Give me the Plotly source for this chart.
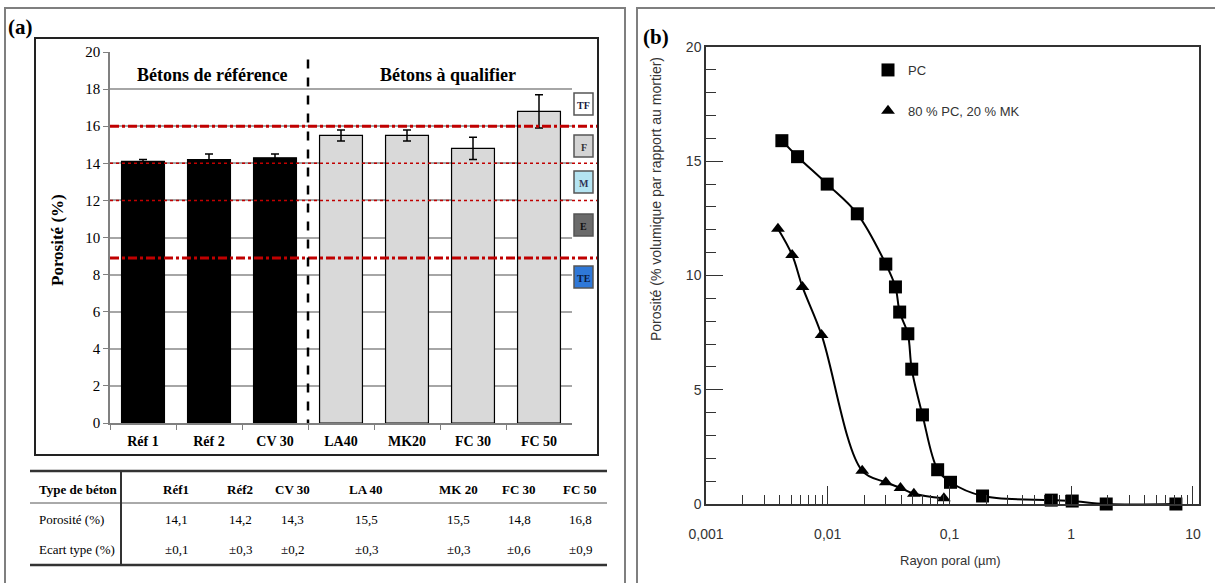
import plotly.graph_objects as go

# ---------------- Panel (a) data ----------------
categories = ["Réf 1", "Réf 2", "CV 30", "LA40", "MK20", "FC 30", "FC 50"]
porosity = [14.1, 14.2, 14.3, 15.5, 15.5, 14.8, 16.8]
std_dev = [0.1, 0.3, 0.2, 0.3, 0.3, 0.6, 0.9]
bar_colors = ["#000000", "#000000", "#000000", "#d9d9d9", "#d9d9d9", "#d9d9d9", "#d9d9d9"]
table_headers = ["Réf1", "Réf2", "CV 30", "LA 40", "MK 20", "FC 30", "FC 50"]
row_labels = ["Type de béton", "Porosité (%)", "Ecart type (%)"]
class_limits = [16, 14, 12, 8.9]
class_labels = ["TF", "F", "M", "E", "TE"]
group_labels = ["Bétons de référence", "Bétons à qualifier"]
y_ticks_a = [0, 2, 4, 6, 8, 10, 12, 14, 16, 18, 20]

# ---------------- Panel (b) data ----------------
pc_radius = [0.0042, 0.00565, 0.0099, 0.0175, 0.030, 0.036, 0.039, 0.0455, 0.049,
             0.060, 0.080, 0.102, 0.187, 0.686, 1.02, 1.94, 7.25]
pc_porosity = [15.9, 15.2, 14.0, 12.7, 10.5, 9.5, 8.4, 7.45, 5.9,
               3.9, 1.5, 0.95, 0.35, 0.17, 0.13, 0.0, 0.0]
mk_radius = [0.0039, 0.0051, 0.0062, 0.0089, 0.0192, 0.030, 0.0396, 0.051, 0.090]
mk_porosity = [12.05, 10.9, 9.5, 7.4, 1.45, 0.95, 0.7, 0.45, 0.25]
x_ticks_b = [0.001, 0.01, 0.1, 1, 10]
x_ticktext_b = ["0,001", "0,01", "0,1", "1", "10"]
y_ticks_b = [0, 5, 10, 15, 20]
legend_names = ["PC", "80 % PC, 20 % MK"]

W, H = 1215, 583
SERIF = "Liberation Serif, Times New Roman, serif"
SANS = "Liberation Sans Narrow, Arial Narrow, Liberation Sans, sans-serif"


def px(xp):
    return xp / W


def py(yp):
    return 1 - yp / H


def fr(v):
    return f"{v:.1f}".replace(".", ",")


def note(x, y, text, size, family=SERIF, color="black", xanchor="center", angle=0):
    return dict(x=px(x), y=py(y), xref="paper", yref="paper", text=text, showarrow=False,
                xanchor=xanchor, yanchor="middle", textangle=angle,
                font=dict(family=family, size=size, color=color))


fig = go.Figure()

# ---- bars (a)
fig.add_trace(go.Bar(
    x=categories, y=porosity, marker=dict(color=bar_colors, line=dict(color="black", width=1.2)),
    width=0.65,
    error_y=dict(type="data", array=std_dev, color="black", thickness=1.5, width=4),
    xaxis="x", yaxis="y", showlegend=False,
))

# ---- curves (b)
fig.add_trace(go.Scatter(
    x=pc_radius, y=pc_porosity, mode="lines+markers",
    line=dict(color="black", width=2, shape="spline", smoothing=1),
    marker=dict(symbol="square", size=13, color="black"),
    xaxis="x2", yaxis="y2", showlegend=False, cliponaxis=False,
))
fig.add_trace(go.Scatter(
    x=mk_radius, y=mk_porosity, mode="lines+markers",
    line=dict(color="black", width=2, shape="spline", smoothing=1),
    marker=dict(symbol="triangle-up", size=12, color="black"),
    xaxis="x2", yaxis="y2", showlegend=False, cliponaxis=False,
))
# legend entries
fig.add_trace(go.Scatter(x=[None], y=[None], mode="markers", name=legend_names[0],
                         marker=dict(symbol="square", size=13, color="black"),
                         xaxis="x2", yaxis="y2", legendgroup="a"))
fig.add_trace(go.Scatter(x=[None], y=[None], mode="markers", name=legend_names[1],
                         marker=dict(symbol="triangle-up", size=12, color="black"),
                         xaxis="x2", yaxis="y2", legendgroup="b"))

shapes = []
annotations = []

# panel frames
shapes.append(dict(type="rect", xref="paper", yref="paper", x0=px(5), x1=px(625), y0=py(600), y1=py(8),
                   line=dict(color="#7f7f7f", width=2), layer="below"))
shapes.append(dict(type="rect", xref="paper", yref="paper", x0=px(637), x1=px(1230), y0=py(600), y1=py(8),
                   line=dict(color="#7f7f7f", width=2), layer="below"))
# inner chart frame (a)
shapes.append(dict(type="rect", xref="paper", yref="paper", x0=px(35), x1=px(598), y0=py(455), y1=py(38),
                   line=dict(color="#222222", width=2), layer="below"))

# red class limit lines
for i, lim in enumerate(class_limits):
    thick = i in (0, 3)
    shapes.append(dict(type="line", xref="paper", yref="y", x0=px(110), x1=px(597), y0=lim, y1=lim,
                       line=dict(color="#c00000", width=3 if thick else 1.5,
                                 dash="dashdot" if thick else "dot")))

# dashed separator
shapes.append(dict(type="line", xref="x", yref="y", x0=2.5, x1=2.5, y0=-0.3, y1=20,
                   line=dict(color="black", width=2.5, dash="dash")))

# class boxes
box_centers = [104, 146, 182, 225, 277]
box_fill = ["#ffffff", "#d4d4d4", "#b4e4f2", "#6b6b6b", "#2f78d8"]
box_text_col = ["#1a1a40", "#333333", "#333355", "#111111", "#0a1a40"]
for lab, yc, fc, tc in zip(class_labels, box_centers, box_fill, box_text_col):
    shapes.append(dict(type="rect", xref="paper", yref="paper", x0=px(574), x1=px(593),
                       y0=py(yc + 11), y1=py(yc - 11), fillcolor=fc,
                       line=dict(color="#555555", width=1.5)))
    annotations.append(note(583.5, yc + 1, f"<b>{lab}</b>", 10, color=tc))

# group labels
for txt, xc in zip(group_labels, [212, 448]):
    annotations.append(note(xc, 75, f"<b>{txt}</b>", 18))

# panel labels
annotations.append(note(6, 27, "<b>(a)</b>", 21, xanchor="left"))
annotations.append(note(641, 37, "<b>(b)</b>", 21, xanchor="left"))

# axis titles
annotations.append(note(57, 240, "<b>Porosité (%)</b>", 17, angle=-90))
annotations.append(note(656, 199, "Porosité (% volumique par rapport au mortier)", 14,
                        family=SANS, color="#333333", angle=-90))
annotations.append(note(950, 560, "Rayon poral (µm)", 13, family=SANS, color="#333333"))

# ---- table under panel (a)
shapes.append(dict(type="line", xref="paper", yref="paper", x0=px(30), x1=px(607), y0=py(471), y1=py(471),
                   line=dict(color="#333333", width=2.5)))
shapes.append(dict(type="line", xref="paper", yref="paper", x0=px(30), x1=px(607), y0=py(503), y1=py(503),
                   line=dict(color="#555555", width=1)))
shapes.append(dict(type="line", xref="paper", yref="paper", x0=px(30), x1=px(607), y0=py(565), y1=py(565),
                   line=dict(color="#333333", width=2.5)))
shapes.append(dict(type="line", xref="paper", yref="paper", x0=px(121), x1=px(121), y0=py(471), y1=py(565),
                   line=dict(color="#333333", width=2)))
col_x = [176, 240, 292, 366, 458, 519, 580]
row_y = [489, 519, 549]
for lab, yy, bold in zip(row_labels, row_y, [True, False, False]):
    annotations.append(note(37, yy, f"<b>{lab}</b>" if bold else lab, 13, xanchor="left"))
for h, v, s, xc in zip(table_headers, porosity, std_dev, col_x):
    annotations.append(note(xc, row_y[0], f"<b>{h}</b>", 13))
    annotations.append(note(xc, row_y[1], fr(v), 13))
    annotations.append(note(xc, row_y[2], "±" + fr(s), 13))

fig.update_layout(
    width=W, height=H,
    margin=dict(l=0, r=0, t=0, b=0, pad=0, autoexpand=False),
    paper_bgcolor="white", plot_bgcolor="white",
    bargap=0.35,
    shapes=shapes, annotations=annotations,
    xaxis=dict(domain=[px(110), px(572)], anchor="y", type="category", automargin=False,
               tickmode="array", tickvals=categories, ticktext=[f"<b>{c}</b>" for c in categories],
               tickson="boundaries", ticks="outside", ticklen=5, tickcolor="#808080",
               ticklabelstandoff=4,
               showline=True, linecolor="#808080", linewidth=1.5, showgrid=False,
               tickfont=dict(family=SERIF, size=14, color="black")),
    yaxis=dict(domain=[py(423), py(52)], anchor="x", range=[0, 20], tickvals=y_ticks_a, automargin=False,
               ticks="outside", ticklen=5, tickcolor="#808080",
               showline=True, linecolor="#808080", linewidth=1.5,
               showgrid=True, gridcolor="#a6a6a6", gridwidth=1.5, zeroline=False,
               tickfont=dict(family=SERIF, size=15, color="black")),
    xaxis2=dict(domain=[px(706), px(1199)], anchor="y2", type="log", range=[-3, 1.05], automargin=False,
                tickvals=x_ticks_b, ticktext=x_ticktext_b, ticks="inside", ticklen=18,
                tickcolor="#333333", ticklabelstandoff=16,
                minor=dict(ticks="inside", ticklen=9, dtick="D1", tickcolor="#333333"),
                showline=True, mirror=True, linecolor="#333333", linewidth=1.5, showgrid=False,
                zeroline=False, tickfont=dict(family=SANS, size=14, color="#333333")),
    yaxis2=dict(domain=[py(504), py(47)], anchor="x2", range=[0, 20], tickvals=y_ticks_b, automargin=False,
                ticks="inside", ticklen=17, tickcolor="#333333",
                minor=dict(ticks="inside", ticklen=10, dtick=1, tickcolor="#333333"),
                showline=True, mirror=True, linecolor="#333333", linewidth=1.5, showgrid=False,
                zeroline=False, tickfont=dict(family=SANS, size=14, color="#333333")),
    showlegend=True,
    legend=dict(x=px(868), y=py(55), xanchor="left", yanchor="top", bgcolor="rgba(0,0,0,0)",
                tracegroupgap=21, itemwidth=30,
                font=dict(family=SANS, size=13, color="#333333")),
)

fig.write_html("out.html", config={"displayModeBar": False},
               post_script="document.body.style.margin='0';document.body.style.overflow='hidden';")
